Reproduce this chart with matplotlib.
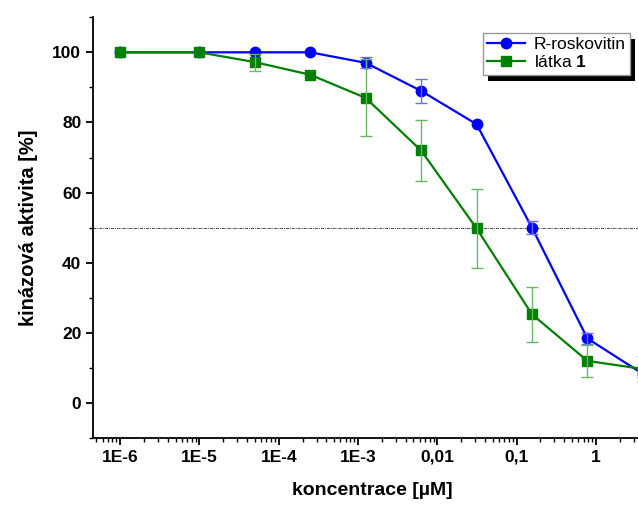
import numpy as np
import matplotlib.pyplot as plt
from matplotlib.patches import Rectangle
from matplotlib.ticker import FixedLocator, LogLocator, NullFormatter

plt.rcParams['font.family'] = ['Liberation Sans', 'DejaVu Sans']
plt.rcParams['mathtext.fontset'] = 'custom'
plt.rcParams['mathtext.bf'] = 'Liberation Sans:bold'
plt.rcParams['mathtext.rm'] = 'Liberation Sans'

# concentration [uM]
conc = [1e-6, 1e-5, 5e-5, 2.5e-4, 1.25e-3, 6.25e-3, 0.03125, 0.15625, 0.78125, 3.90625]

rosk = [100, 100, 100, 100, 97.0, 89.0, 79.5, 50.0, 18.4, 8.3]
rosk_err = [0, 0, 0, 0, 1.6, 3.5, 0, 1.9, 1.5, 1.0]

latka = [100, 100, 97.2, 93.6, 87.0, 72.0, 49.8, 25.3, 12.0, 9.7]
latka_err = [0, 0, 2.4, 0, 11.0, 8.6, 11.2, 7.9, 4.6, 3.7]

xticks = [1e-6, 1e-5, 1e-4, 1e-3, 1e-2, 1e-1, 1]
xticklabels = ['1E-6', '1E-5', '1E-4', '1E-3', '0,01', '0,1', '1']
yticks = [0, 20, 40, 60, 80, 100]


def err_points(x, y, e):
    # only the points that actually have an error bar
    keep = [i for i in range(len(x)) if e[i] > 0]
    return [x[i] for i in keep], [y[i] for i in keep], [e[i] for i in keep]


fig = plt.figure(figsize=(6.38, 5.07), dpi=100)
ax = fig.add_axes([0.146, 0.136, 0.875, 0.830])

ax.axhline(50, color='#444444', lw=0.7, ls=(0, (3, 1, 1, 1)), zorder=1)

ax.plot(conc, rosk, color='#0000ff', lw=1.6, marker='o', markersize=7.5,
        label='R-roskovitin', zorder=3, clip_on=False)
ax.plot(conc, latka, color='#008000', lw=1.6, marker='s', markersize=6.5,
        label=r'látka $\mathbf{1}$', zorder=4, clip_on=False)

ex, ey, ee = err_points(conc, rosk, rosk_err)
ax.errorbar(ex, ey, yerr=ee, fmt='none', ecolor='#6b6bff',
            elinewidth=1.0, capsize=4, capthick=1.0, zorder=4.5, clip_on=False)
ex, ey, ee = err_points(conc, latka, latka_err)
ax.errorbar(ex, ey, yerr=ee, fmt='none', ecolor='#66b866',
            elinewidth=1.0, capsize=4, capthick=1.0, zorder=4.5, clip_on=False)

ax.set_xscale('log')
ax.set_xlim(10**-6.34, 10**0.7)
ax.set_ylim(-10, 110)

ax.xaxis.set_major_locator(FixedLocator(xticks))
ax.set_xticklabels(xticklabels)
ax.xaxis.set_minor_locator(LogLocator(base=10, subs=np.arange(2, 10)))
ax.xaxis.set_minor_formatter(NullFormatter())
ax.set_yticks(yticks)
ax.set_yticks([-10, 10, 30, 50, 70, 90, 110], minor=True)

for s in ['top', 'right']:
    ax.spines[s].set_visible(False)
for s in ['left', 'bottom']:
    ax.spines[s].set_linewidth(1.3)

ax.tick_params(which='major', direction='out', length=5, width=1.3,
               labelsize=12.5)
ax.tick_params(which='minor', direction='out', length=3, width=1.0)
for lab in ax.get_xticklabels() + ax.get_yticklabels():
    lab.set_fontweight('bold')

ax.set_xlabel('koncentrace [µM]', fontsize=14, fontweight='bold', labelpad=12)
ax.set_ylabel('kinázová aktivita [%]', fontsize=14.5, fontweight='bold', labelpad=10)

leg = ax.legend(loc='upper right', bbox_to_anchor=(0.988, 0.935),
                bbox_transform=fig.transFigure, fontsize=12.5, fancybox=False,
                edgecolor='#999999', framealpha=1,
                handlelength=2.2, borderpad=0.25, labelspacing=0.1,
                handletextpad=0.5, borderaxespad=0)
leg.set_zorder(6)
leg.get_frame().set_linewidth(1.0)

# black drop shadow behind the legend box
fig.canvas.draw()
bb = leg.get_frame().get_window_extent()
ax.add_patch(Rectangle((bb.x0 + 5, bb.y0 - 6), bb.width, bb.height,
                       transform=None, facecolor='black', edgecolor='none',
                       zorder=5.9, clip_on=False))

fig.savefig('out.png', dpi=100)
